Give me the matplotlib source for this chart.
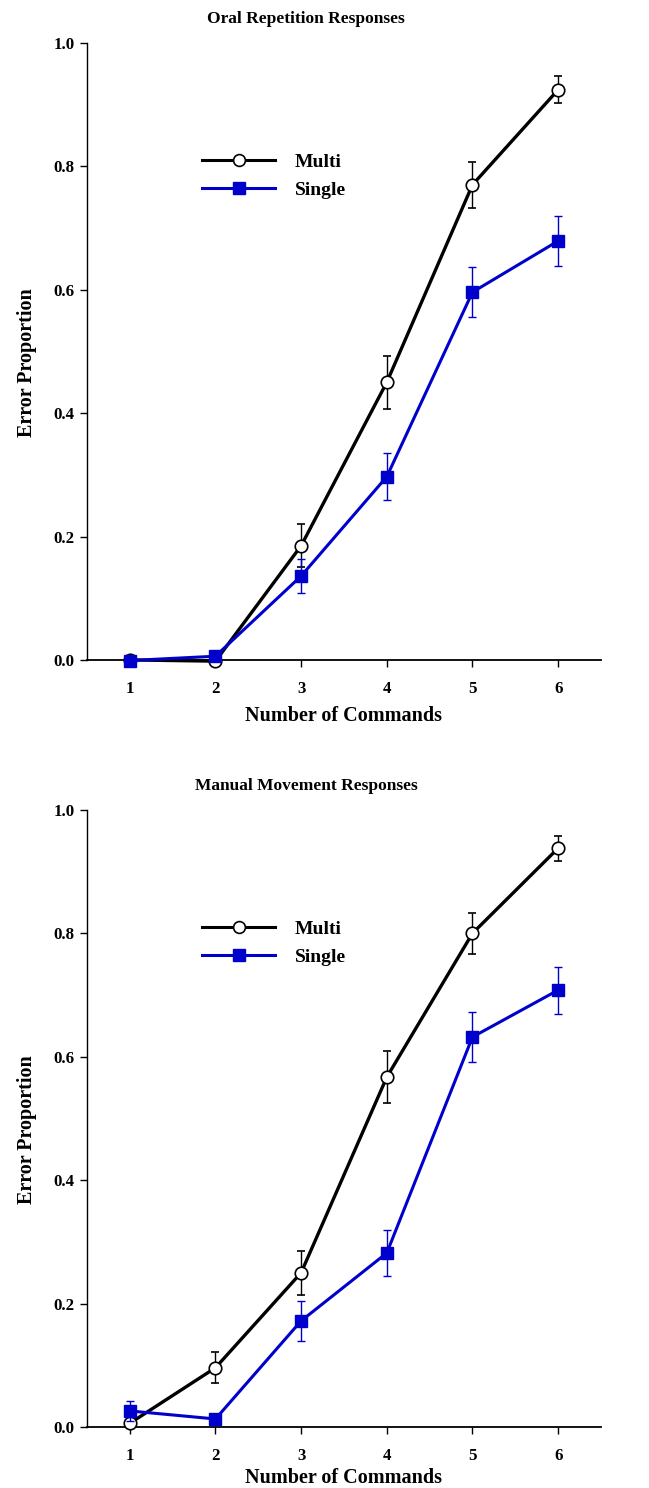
import numpy as np
import matplotlib.pyplot as plt
from matplotlib.lines import Line2D

# number of commands
commands = [1, 2, 3, 4, 5, 6]

# Oral repetition responses
oral_multi = [0.0, -0.002, 0.185, 0.450, 0.770, 0.924]
oral_multi_se = [0.0, 0.0, 0.035, 0.043, 0.037, 0.022]
oral_single = [-0.001, 0.006, 0.136, 0.297, 0.596, 0.679]
oral_single_se = [0.0, 0.0, 0.028, 0.038, 0.040, 0.040]

# Manual movement responses
manual_multi = [0.006, 0.096, 0.250, 0.567, 0.800, 0.938]
manual_multi_se = [0.0, 0.025, 0.036, 0.042, 0.033, 0.020]
manual_single = [0.026, 0.013, 0.172, 0.282, 0.632, 0.708]
manual_single_se = [0.016, 0.0, 0.032, 0.038, 0.040, 0.038]

titles = ['Oral Repetition Responses', 'Manual Movement Responses']
yticks = [0.0, 0.2, 0.4, 0.6, 0.8, 1.0]

plt.rcParams['font.family'] = ['Liberation Serif', 'DejaVu Serif']
plt.rcParams['font.weight'] = 'bold'

blue = '#0000CC'

fig = plt.figure(figsize=(6.49, 14.88), dpi=100)
ax1 = fig.add_axes([0.134, 0.5565, 0.792, 0.4147])
ax2 = fig.add_axes([0.134, 0.041, 0.792, 0.4147])

panels = [
    (ax1, oral_multi, oral_multi_se, oral_single, oral_single_se, titles[0], 7),
    (ax2, manual_multi, manual_multi_se, manual_single, manual_single_se, titles[1], 3),
]

for ax, m, m_se, s, s_se, title, xpad in panels:
    ax.errorbar(commands, m, yerr=m_se, color='black', lw=2.4, marker='o',
                ms=9, mfc='white', mec='black', mew=1.2, ecolor='black',
                elinewidth=1, capsize=3, capthick=1,
                clip_on=False, zorder=3)
    ax.errorbar(commands, s, yerr=s_se, color=blue, lw=2.2, marker='s',
                ms=9, mfc=blue, mec=blue, ecolor=blue,
                elinewidth=1, capsize=3, capthick=1,
                clip_on=False, zorder=4)

    ax.set_xlim(0.5, 6.5)
    ax.set_ylim(0, 1.0)
    ax.set_xticks(commands)
    ax.set_yticks(yticks)
    ax.set_yticklabels([f'{t:.1f}' for t in yticks])
    ax.spines['top'].set_visible(False)
    ax.spines['right'].set_visible(False)
    ax.spines['left'].set_linewidth(1)
    ax.spines['bottom'].set_linewidth(1.3)
    ax.tick_params(direction='out', length=5, width=1, labelsize=12.2, pad=4)
    ax.tick_params(axis='x', pad=10)
    for lab in ax.get_xticklabels() + ax.get_yticklabels():
        lab.set_fontweight('bold')

    # title sits a little left of the axes centre, as in the original
    ax.text(3.06, 1.025, title, transform=ax.get_xaxis_transform(),
            ha='center', va='bottom', fontsize=12.5, fontweight='bold')
    ax.set_xlabel('Number of Commands', fontsize=14.5, fontweight='bold', labelpad=xpad)
    ax.set_ylabel('Error Proportion', fontsize=14.5, fontweight='bold')
    ax.yaxis.set_label_coords(-0.097, 0.482)

    handles = [
        Line2D([], [], color='black', lw=2.2, marker='o', ms=8.5, mfc='white',
               mec='black', mew=1.2),
        Line2D([], [], color=blue, lw=2.2, marker='s', ms=8.5, mfc=blue, mec=blue),
    ]
    leg = ax.legend(handles, ['Multi', 'Single'], loc='center left',
                    bbox_to_anchor=(0.224, 0.784), frameon=False, borderpad=0,
                    borderaxespad=0, fontsize=14, handlelength=3.76,
                    handletextpad=1.0, labelspacing=0.55)
    for t in leg.get_texts():
        t.set_fontweight('bold')

plt.savefig('out.png', dpi=100)
